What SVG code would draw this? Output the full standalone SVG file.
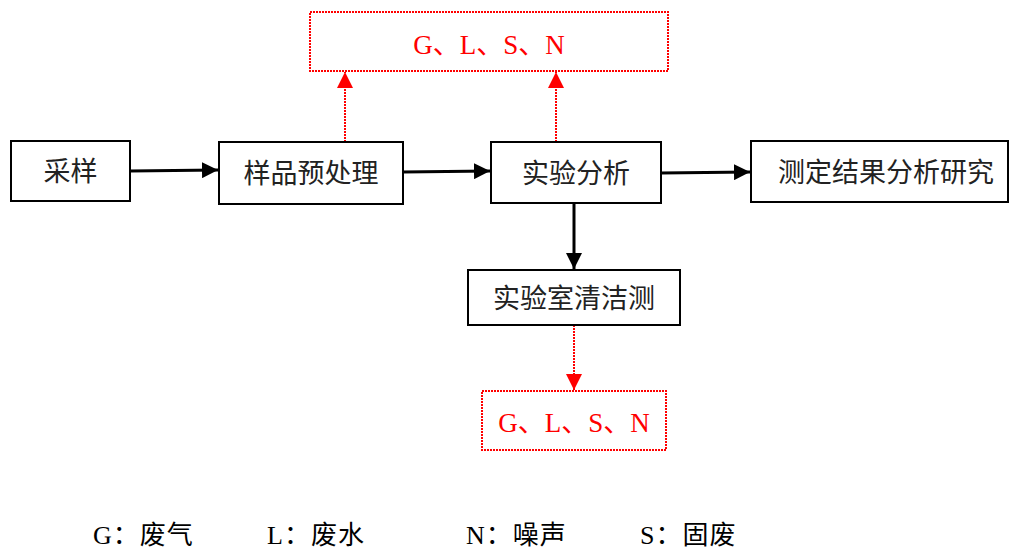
<svg xmlns="http://www.w3.org/2000/svg" width="1009" height="551" viewBox="0 0 1009 551">
<style>
.box{fill:#fff;stroke:#000;stroke-width:2}
.rbox{fill:#fff;stroke:#f00;stroke-width:2;stroke-dasharray:2 1}
.t{font-family:"Liberation Serif","Noto Sans CJK SC",serif;font-size:27px;fill:#222;text-anchor:middle}
.rt{font-family:"Liberation Serif","Noto Sans CJK SC",serif;font-size:27px;fill:#f00;text-anchor:middle}
.lg{font-family:"Liberation Serif","Noto Sans CJK SC",serif;font-size:26px;fill:#000;letter-spacing:1px}
.a{stroke:#000;stroke-width:3;fill:none}
.ra{stroke:#f00;stroke-width:2;stroke-dasharray:2 1;fill:none}
</style>
<defs>
<marker id="ah" viewBox="0 0 10 10" refX="10" refY="5" markerUnits="userSpaceOnUse" markerWidth="16" markerHeight="16" orient="auto"><path d="M0,0 L10,5 L0,10 z" fill="#000"/></marker>
<marker id="rah" viewBox="0 0 10 10" refX="10" refY="5" markerUnits="userSpaceOnUse" markerWidth="16" markerHeight="16" orient="auto"><path d="M0,0 L10,5 L0,10 z" fill="#f00"/></marker>
</defs>
<g id="connectors">
<line class="a" x1="130" y1="171" x2="218" y2="170" marker-end="url(#ah)"/>
<line class="a" x1="403" y1="172" x2="490" y2="171" marker-end="url(#ah)"/>
<line class="a" x1="661" y1="173" x2="750" y2="172" marker-end="url(#ah)"/>
<line class="a" x1="574" y1="203" x2="574" y2="269" marker-end="url(#ah)"/>
<line class="ra" x1="345" y1="142" x2="345" y2="72" marker-end="url(#rah)"/>
<line class="ra" x1="556" y1="142" x2="556" y2="72" marker-end="url(#rah)"/>
<line class="ra" x1="574" y1="325" x2="574" y2="390" marker-end="url(#rah)"/>
</g>
<g id="n_caiyang"><rect class="box" x="11" y="141" width="119" height="60"/><text class="t" x="70.5" y="181">采样</text></g>
<g id="n_yuchuli"><rect class="box" x="219" y="142" width="184" height="62"/><text class="t" x="311" y="183">样品预处理</text></g>
<g id="n_fenxi"><rect class="box" x="491" y="142" width="170" height="61"/><text class="t" x="576" y="183">实验分析</text></g>
<g id="n_yanjiu"><rect class="box" x="751" y="141" width="257" height="61"/><text class="t" x="886" y="182">测定结果分析研究</text></g>
<g id="n_qingjie"><rect class="box" x="468" y="270" width="212" height="55"/><text class="t" x="574" y="308">实验室清洁测</text></g>
<g id="n_top"><rect class="rbox" x="310" y="12" width="358" height="59"/><text class="rt" x="489" y="54">G、L、S、N</text></g>
<g id="n_bottom"><rect class="rbox" x="482" y="391" width="184" height="59"/><text class="rt" x="574" y="432">G、L、S、N</text></g>
<g id="legend">
<text class="lg" x="93" y="544">G：废气</text>
<text class="lg" x="267" y="544">L：废水</text>
<text class="lg" x="466" y="544">N：噪声</text>
<text class="lg" x="640" y="544">S：固废</text>
</g>
</svg>
